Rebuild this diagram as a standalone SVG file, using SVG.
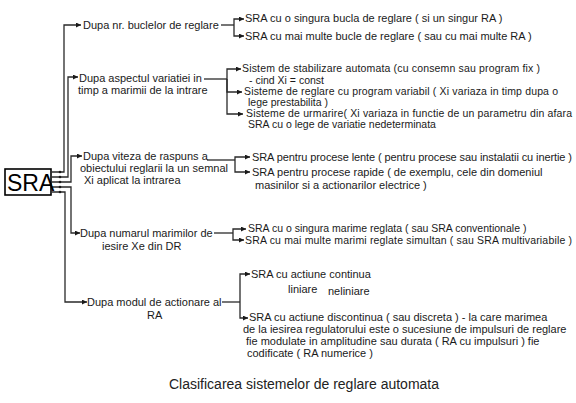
<svg xmlns="http://www.w3.org/2000/svg" width="576" height="403" viewBox="0 0 576 403">
<style>
text{font-family:"Liberation Sans",Arial,sans-serif;font-size:11px;fill:#1a1a1a}
.s{font-size:10.5px}
.c{fill:none;stroke:#2a2a2a;stroke-width:1.3}
.a{marker-end:url(#ar)}
.cap{font-size:14px;fill:#222}
.big{font-size:23px;fill:#000}
</style>
<defs>
<marker id="ar" viewBox="0 0 6 6" refX="6" refY="3" markerWidth="6" markerHeight="5" markerUnits="userSpaceOnUse" orient="auto">
<path d="M0,0 L6,3 L0,6 z" fill="#1a1a1a"/>
</marker>
</defs>
<rect width="576" height="403" fill="#fff"/>
<g id="connectors">
<path class="c a" d="M52,172 H64 V25 H81"/>
<path class="c a" d="M52,177 H68 V77 H78"/>
<path class="c a" d="M52,182 H71 V156 H82"/>
<path class="c a" d="M52,187 H71 V233 H80"/>
<path class="c a" d="M52,192 H65 V302 H87"/>
<g fill="#1a1a1a"><circle cx="60" cy="172" r="1.3"/><circle cx="60" cy="177" r="1.3"/><circle cx="60" cy="182" r="1.3"/><circle cx="60" cy="187" r="1.3"/><circle cx="60" cy="192" r="1.3"/></g>
<path class="c" d="M221,25 H234"/>
<path class="c a" d="M234,25 V19 H244"/>
<path class="c a" d="M234,25 V36 H244"/>
<path class="c" d="M204,79 H227"/>
<path class="c a" d="M227,79 V69 H241"/>
<path class="c a" d="M227,79 V92 H242"/>
<path class="c a" d="M227,79 V114 H243"/>
<path class="c" d="M207,160 H235"/>
<path class="c a" d="M235,160 V157 H250"/>
<path class="c a" d="M235,160 V172 H250"/>
<path class="c" d="M214,233 H233"/>
<path class="c a" d="M233,233 V229 H246"/>
<path class="c a" d="M233,233 V240 H244"/>
<path class="c" d="M222,302 H240"/>
<path class="c a" d="M240,302 V274 H250"/>
<path class="c a" d="M240,302 V318 H248"/>
</g>
<g id="sra">
<rect x="5" y="169" width="46" height="26" fill="#fff" stroke="#000" stroke-width="1.6"/>
<text class="big" x="7" y="191">SRA</text>
</g>
<g id="n1"><text x="83" y="29">Dupa nr. buclelor de reglare</text></g>
<g id="n1a"><text x="245" y="22">SRA cu o singura bucla de reglare ( si un singur RA )</text></g>
<g id="n1b"><text x="245" y="40">SRA cu mai multe bucle de reglare ( sau cu mai multe RA )</text></g>
<g id="n2"><text x="79" y="82">Dupa aspectul variatiei in</text><text x="78" y="94">timp a marimii de la intrare</text></g>
<g id="n2a"><text class="s" x="242" y="72" textLength="298">Sistem de stabilizare automata (cu consemn sau program fix )</text><text class="s" x="249" y="84">- cind Xi = const</text></g>
<g id="n2b"><text class="s" x="244" y="95" textLength="314">Sisteme de reglare cu program variabil ( Xi variaza in timp dupa o</text><text class="s" x="248" y="106">lege prestabilita )</text></g>
<g id="n2c"><text class="s" x="246" y="117" textLength="326">Sisteme de urmarire( Xi variaza in functie de un parametru din afara</text><text class="s" x="248" y="128">SRA cu o lege de variatie nedeterminata</text></g>
<g id="n3"><text x="83" y="160">Dupa viteza de raspuns a</text><text x="80" y="172">obiectului reglarii la un semnal</text><text x="84" y="184">Xi aplicat la intrarea</text></g>
<g id="n3a"><text x="252" y="161" textLength="320">SRA pentru procese lente ( pentru procese sau instalatii cu inertie )</text></g>
<g id="n3b"><text x="252" y="176">SRA pentru procese rapide ( de exemplu, cele din domeniul</text><text x="255" y="189">masinilor si a actionarilor electrice )</text></g>
<g id="n4"><text x="80" y="237">Dupa numarul marimilor de</text><text x="102" y="250">iesire Xe din DR</text></g>
<g id="n4a"><text class="s" x="248" y="232">SRA cu o singura marime reglata ( sau SRA conventionale )</text></g>
<g id="n4b"><text class="s" x="245" y="244" textLength="327">SRA cu mai multe marimi reglate simultan ( sau  SRA multivariabile )</text></g>
<g id="n5"><text x="87" y="306">Dupa modul de actionare al</text><text x="147" y="319">RA</text></g>
<g id="n5a"><text x="251" y="278">SRA cu actiune continua</text><text x="288" y="293">liniare</text><text x="328" y="295">neliniare</text></g>
<g id="n5b"><text x="249" y="321">SRA cu actiune discontinua ( sau discreta ) - la care marimea</text><text x="243" y="333">de la iesirea regulatorului este o sucesiune de impulsuri de reglare</text><text x="246" y="345">fie modulate in amplitudine sau durata ( RA cu impulsuri ) fie</text><text x="247" y="357">codificate ( RA numerice )</text></g>
<text class="cap" x="169" y="389">Clasificarea sistemelor de reglare automata</text>
</svg>
